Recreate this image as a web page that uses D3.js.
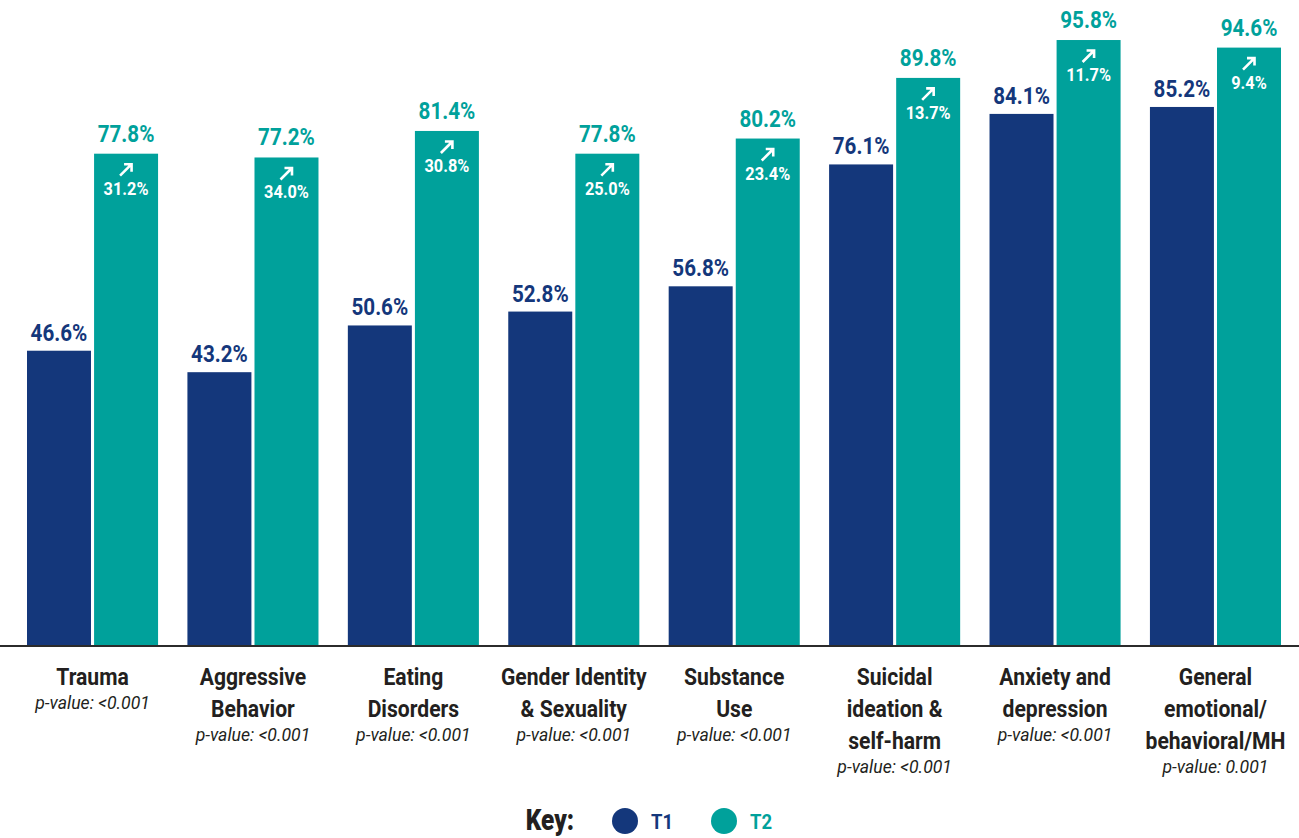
<!DOCTYPE html>
<html>
<head>
<meta charset="utf-8">
<script src="https://cdn.jsdelivr.net/npm/d3@7"></script>
<style>
  html, body { margin: 0; padding: 0; background: #ffffff; }
  svg { display: block; }
  text { font-family: Roboto, "Liberation Sans", sans-serif; }
</style>
</head>
<body>
<svg id="chart" width="1299" height="838"></svg>
<script>
// Share of respondents at T1 and T2 for each topic
const categories = [
  ["Trauma"],
  ["Aggressive", "Behavior"],
  ["Eating", "Disorders"],
  ["Gender Identity", "& Sexuality"],
  ["Substance", "Use"],
  ["Suicidal", "ideation &", "self-harm"],
  ["Anxiety and", "depression"],
  ["General", "emotional/", "behavioral/MH"]
];
const t1Values = [46.6, 43.2, 50.6, 52.8, 56.8, 76.1, 84.1, 85.2];
const t2Values = [77.8, 77.2, 81.4, 77.8, 80.2, 89.8, 95.8, 94.6];
const changeValues = [31.2, 34.0, 30.8, 25.0, 23.4, 13.7, 11.7, 9.4];
const pValues = ["<0.001", "<0.001", "<0.001", "<0.001", "<0.001", "<0.001", "<0.001", "0.001"];
const seriesNames = ["T1", "T2"];

const colors = { T1: "#14377b", T2: "#00a19b" };
const darkText = "#231f20";

const svg = d3.select("#chart");
const baseY = 645;

const x = d3.scaleBand()
  .domain(d3.range(categories.length))
  .range([27, 1281])
  .paddingInner(0.183)
  .paddingOuter(0);

const xs = d3.scaleBand()
  .domain(seriesNames)
  .range([0, x.bandwidth()])
  .paddingInner(0.046);

const y = d3.scaleLinear().domain([0, 100]).range([baseY, 13.5]);

const fmt = d3.format(".1f");

// Narrowed text: the labels use a condensed face, so squeeze horizontally
function label(sel, tx, ty, str, o) {
  return sel.append("text")
    .attr("transform", `translate(${tx},${ty}) scale(${o.sx || 0.86},1)`)
    .attr("text-anchor", o.anchor || "middle")
    .attr("font-size", o.size)
    .attr("font-weight", o.weight || "normal")
    .attr("font-style", o.style || "normal")
    .attr("fill", o.fill)
    .text(str);
}

const rows = categories.map((c, i) => ({
  i, lines: c, t1: t1Values[i], t2: t2Values[i], change: changeValues[i], p: pValues[i]
}));

const g = svg.selectAll("g.group").data(rows).join("g")
  .attr("class", "group")
  .attr("transform", d => `translate(${x(d.i)},0)`);

// T1 bars
g.append("rect")
  .attr("x", xs("T1"))
  .attr("width", xs.bandwidth())
  .attr("y", d => y(d.t1))
  .attr("height", d => baseY - y(d.t1))
  .attr("fill", colors.T1);

// T2 bars
g.append("rect")
  .attr("x", xs("T2"))
  .attr("width", xs.bandwidth())
  .attr("y", d => y(d.t2))
  .attr("height", d => baseY - y(d.t2))
  .attr("fill", colors.T2);

const c1 = xs("T1") + xs.bandwidth() / 2;
const c2 = xs("T2") + xs.bandwidth() / 2;

g.each(function (d) {
  const sel = d3.select(this);
  // value labels above bars
  label(sel, c1, y(d.t1) - 10, fmt(d.t1) + "%", { size: 24, weight: "bold", fill: colors.T1, sx: 0.86 });
  label(sel, c2, y(d.t2) - 12, fmt(d.t2) + "%", { size: 24, weight: "bold", fill: colors.T2, sx: 0.86 });

  // increase arrow inside the T2 bar
  const ax = c2, ay = y(d.t2) + 16;
  sel.append("path")
    .attr("d", `M${ax - 6},${ay + 6}L${ax + 5},${ay - 5}M${ax - 2},${ay - 5.5}H${ax + 5.5}V${ay + 2}`)
    .attr("fill", "none")
    .attr("stroke", "#ffffff")
    .attr("stroke-width", 2.6);

  // change value
  label(sel, c2, y(d.t2) + 41, fmt(d.change) + "%", { size: 19, weight: "bold", fill: "#ffffff", sx: 0.86 });

  // category label lines and p-value
  const cx = x.bandwidth() / 2;
  const lineH = 32;
  d.lines.forEach((ln, k) => {
    label(sel, cx, 685 + k * lineH, ln, { size: 24, weight: "bold", fill: darkText, sx: 0.88 });
  });
  label(sel, cx, 685 + (d.lines.length - 1) * lineH + 24, "p-value: " + d.p,
    { size: 18, style: "italic", fill: darkText, sx: 0.98 });
});

// Baseline
svg.append("line")
  .attr("x1", 0).attr("x2", 1299)
  .attr("y1", baseY + 1).attr("y2", baseY + 1)
  .attr("stroke", "#2b2b2b")
  .attr("stroke-width", 2);

// Key
const key = svg.append("g");
label(key, 550, 830, "Key:", { size: 29, weight: "900", fill: darkText, sx: 0.84 });

const keyX = [625, 724];
seriesNames.forEach((s, k) => {
  key.append("circle")
    .attr("cx", keyX[k]).attr("cy", 821).attr("r", 13)
    .attr("fill", colors[s]);
  label(key, keyX[k] + 26, 829, s, { size: 21, weight: "bold", fill: colors[s], sx: 0.88, anchor: "start" });
});
</script>
</body>
</html>
